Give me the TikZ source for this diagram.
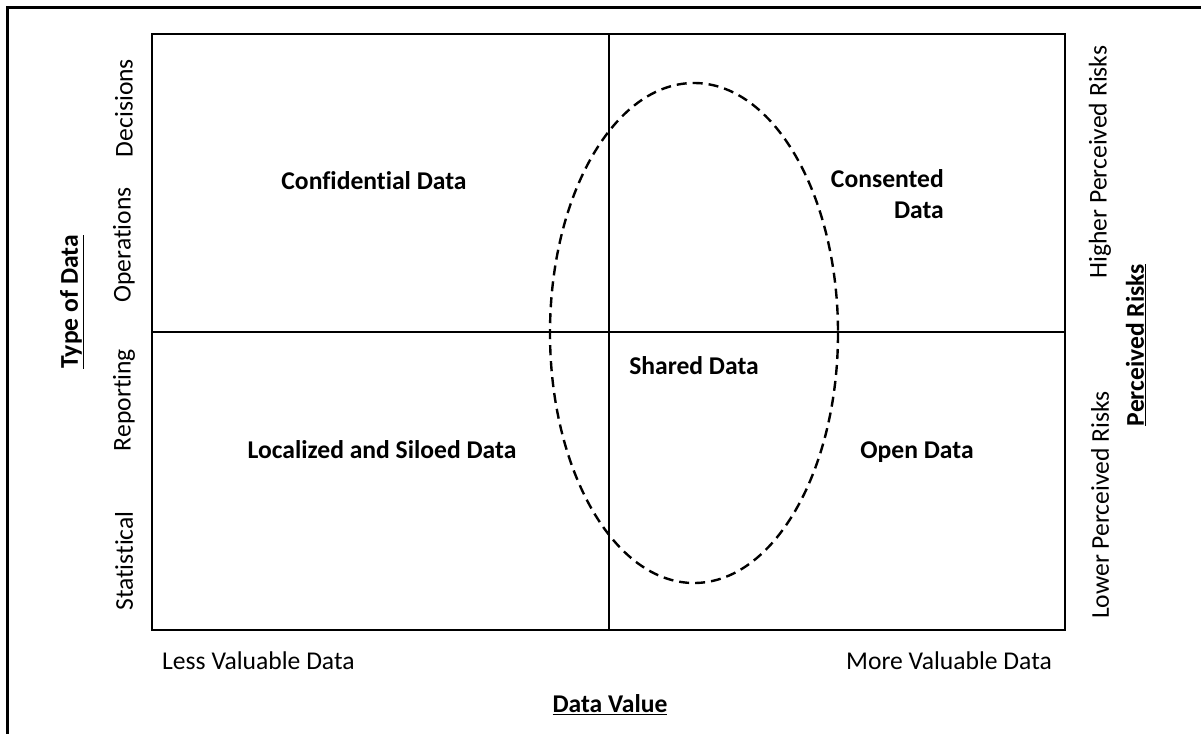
\documentclass[tikz,border=0pt]{standalone}
\usepackage{fontspec}
\setmainfont{Carlito}[Ligatures=NoCommon]
\begin{document}
\begin{tikzpicture}[x=1pt,y=-1pt,
    txt/.style={inner sep=0pt, font=\fontsize{25.6}{31}\selectfont},
    btxt/.style={txt, font=\fontsize{25.6}{31}\selectfont\bfseries},
    side/.style={txt, rotate=90},
    bside/.style={btxt, rotate=90}]
  \useasboundingbox (0,0) rectangle (1201,733);
  \clip (0,0) rectangle (1201,733);
  %% outer frame
  \draw[line width=2.4pt] (1260,7.5) -- (7.5,7.5) -- (7.5,780);

  %% quadrants
  \draw[line width=1.2pt] (152,34) rectangle (1065,630);
  \draw[line width=1.2pt] (609,34) to (609,630);
  \draw[line width=1.2pt] (152,332) to (1065,332);
    \draw[line width=2.4pt, dash pattern=on 10pt off 6pt] (694,333) ellipse [x radius=144, y radius=250];

  %% quadrant names
  \node[btxt] (conf) at (374,181) {Confidential Data};
  \node[btxt, align=right, anchor=east] (cons) at (944,194) {Consented\\Data};
  \node[btxt] (shared) at (694,366) {Shared Data};
  \node[btxt] (silo) at (382,450) {Localized and Siloed Data};
  \node[btxt] (open) at (917,452) {Open Data};

  %% x axis
  \node[txt, anchor=west] (less) at (162,661) {Less Valuable Data};
  \node[txt, anchor=east] (more) at (1052,661) {More Valuable Data};
  \node[btxt] (value) at (610,705) {\underline{Data Value}};

  %% left axis
  \node[side] (dec) at (124,108) {Decisions};
  \node[side] (ops) at (124,245) {Operations};
  \node[side] (rep) at (124,400) {Reporting};
  \node[side] (stat) at (124,561) {Statistical};
  \node[bside] (type) at (72,302) {\underline{Type of Data}};

  %% right axis
  \node[side] (hi) at (1100,162) {Higher Perceived Risks};
  \node[side] (lo) at (1100,505) {Lower Perceived Risks};
  \node[bside] (risk) at (1136,345) {\underline{Perceived Risks}};
\end{tikzpicture}
\end{document}
